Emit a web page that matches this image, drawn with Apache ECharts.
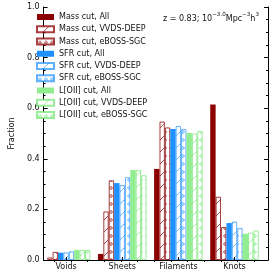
<!DOCTYPE html>
<html><head><meta charset="utf-8">
<script src="https://cdn.jsdelivr.net/npm/echarts@6/dist/echarts.min.js"></script>
<style>html,body{margin:0;padding:0;background:#fff}#c{width:274px;height:275px}</style>
</head><body><div id="c"></div>
<script>
const categories = ['Voids', 'Sheets', 'Filaments', 'Knots'];
const seriesNames = ['Mass cut, All','Mass cut, VVDS-DEEP','Mass cut, eBOSS-SGC','SFR cut, All','SFR cut, VVDS-DEEP','SFR cut, eBOSS-SGC','L[OII] cut, All','L[OII] cut, VVDS-DEEP','L[OII] cut, eBOSS-SGC'];
const massAll   = [0.000, 0.024, 0.360, 0.615];
const massVVDS  = [0.010, 0.192, 0.547, 0.250];
const massEBOSS = [0.032, 0.315, 0.524, 0.130];
const sfrAll    = [0.029, 0.304, 0.518, 0.146];
const sfrVVDS   = [0.030, 0.296, 0.530, 0.152];
const sfrEBOSS  = [0.034, 0.327, 0.517, 0.126];
const lAll      = [0.040, 0.356, 0.502, 0.104];
const lVVDS     = [0.040, 0.356, 0.500, 0.108];
const lEBOSS    = [0.040, 0.335, 0.509, 0.117];
const yTicks = [0, 0.2, 0.4, 0.6, 0.8, 1.0];
const annotation = '{a|z = 0.83; 10}{s|\u22123.0}{a|Mpc}{s|\u22123}{a|h}{s|3}';

const FONT = 'DejaVu Sans';
const colDark = '#8b0000', colBlue = '#1e90ff', colGreen = '#90ee90';
const edgeDark = 'rgba(139,0,0,0.75)', edgeBlue = 'rgba(30,144,255,0.7)', edgeGreen = 'rgba(120,230,120,0.75)';

function lineHatch(c) {
  const cv = document.createElement('canvas'); cv.width = 12; cv.height = 12;
  const x = cv.getContext('2d'); x.fillStyle = '#fff'; x.fillRect(0,0,12,12);
  x.strokeStyle = c; x.lineWidth = 0.9;
  x.beginPath(); x.moveTo(-1,13); x.lineTo(13,-1); x.stroke();
  return {image: cv, repeat: 'repeat'};
}
function circHatch(c) {
  const cv = document.createElement('canvas'); cv.width = 6; cv.height = 8;
  const x = cv.getContext('2d'); x.fillStyle = '#fff'; x.fillRect(0,0,6,8);
  x.strokeStyle = c; x.lineWidth = 0.9;
  x.beginPath(); x.arc(3,4,1.3,0,Math.PI*2); x.stroke();
  return {image: cv, repeat: 'repeat'};
}

const dataSets = [massAll, massVVDS, massEBOSS, sfrAll, sfrVVDS, sfrEBOSS, lAll, lVVDS, lEBOSS];
const styles = [
  {color: colDark},
  {color: lineHatch(edgeDark), borderColor: edgeDark, borderWidth: 1},
  {color: circHatch(edgeDark), borderColor: edgeDark, borderWidth: 1},
  {color: colBlue},
  {color: lineHatch(edgeBlue), borderColor: edgeBlue, borderWidth: 1},
  {color: circHatch(edgeBlue), borderColor: edgeBlue, borderWidth: 1},
  {color: colGreen},
  {color: lineHatch(edgeGreen), borderColor: edgeGreen, borderWidth: 1},
  {color: circHatch(edgeGreen), borderColor: edgeGreen, borderWidth: 1}
];

const series = dataSets.map((d, i) => ({
  name: seriesNames[i], type: 'bar', xAxisIndex: 2, yAxisIndex: 2,
  data: d, barWidth: 5.4, barGap: '0%', itemStyle: styles[i], animation: false
}));

const topTicks = [41.1, 58.8, 76.5, 94.2, 111.9, 129.6, 147.3, 165, 182.7, 200.4, 218.1, 235.8, 253.5];
const axLine = {show: true, lineStyle: {color: '#000', width: 1}};

const chart = echarts.init(document.getElementById('c'), null, {renderer: 'canvas'});
chart.setOption({
  animation: false,
  textStyle: {fontFamily: FONT},
  grid: [
    {left: 30, top: 7, width: 238, height: 253},
    {left: 38, top: 7, width: 224.6, height: 253}
  ],
  legend: {
    orient: 'vertical', left: 36, top: 13, padding: 0, itemGap: 4.25,
    itemWidth: 17, itemHeight: 6, icon: 'rect',
    textStyle: {fontSize: 8, fontFamily: FONT, color: '#111', lineHeight: 8},
    data: seriesNames
  },
  xAxis: [
    {gridIndex: 0, type: 'value', position: 'bottom', min: 30, max: 268,
     axisLine: axLine, axisTick: {show: false}, axisLabel: {show: false}, splitLine: {show: false}},
    {gridIndex: 0, type: 'value', position: 'top', min: 30, max: 268,
     axisLine: axLine, axisTick: {show: true, inside: true, length: 2, customValues: topTicks, lineStyle: {color: '#000'}},
     axisLabel: {show: false}, splitLine: {show: false}},
    {gridIndex: 1, type: 'category', data: categories, z: 10,
     axisLine: {show: false},
     axisTick: {show: true, inside: true, alignWithLabel: true, length: 3, lineStyle: {color: '#000'}},
     axisLabel: {fontSize: 8, fontFamily: FONT, color: '#111', margin: 3}}
  ],
  yAxis: [
    {gridIndex: 0, type: 'value', min: 0, max: 1, interval: 0.2, position: 'left',
     name: 'Fraction', nameLocation: 'middle', nameGap: 23,
     nameTextStyle: {fontSize: 8, fontFamily: FONT, color: '#111'},
     axisLine: axLine,
     axisTick: {show: true, inside: true, length: 4, lineStyle: {color: '#000'}},
     minorTick: {show: true, splitNumber: 4, length: 2, lineStyle: {color: '#000'}},
     axisLabel: {fontSize: 8, fontFamily: FONT, color: '#111', margin: 4,
       formatter: v => yTicks.some(t => Math.abs(t - v) < 1e-9) ? v.toFixed(1) : ''},
     splitLine: {show: false}},
    {gridIndex: 0, type: 'value', min: 0, max: 1, interval: 0.2, position: 'right',
     axisLine: axLine,
     axisTick: {show: true, inside: true, length: 4, lineStyle: {color: '#000'}},
     minorTick: {show: true, splitNumber: 4, length: 2, lineStyle: {color: '#000'}},
     axisLabel: {show: false}, splitLine: {show: false}},
    {gridIndex: 1, type: 'value', min: 0, max: 1, show: false}
  ],
  graphic: [{
    type: 'text', right: 15, top: 12, z: 20,
    style: {
      text: annotation, fill: '#111',
      rich: {
        a: {fontSize: 8, fontFamily: FONT, fill: '#111', lineHeight: 11, verticalAlign: 'bottom'},
        s: {fontSize: 5.6, fontFamily: FONT, fill: '#111', lineHeight: 11, verticalAlign: 'top'}
      }
    }
  }],
  series: series
});
</script></body></html>
